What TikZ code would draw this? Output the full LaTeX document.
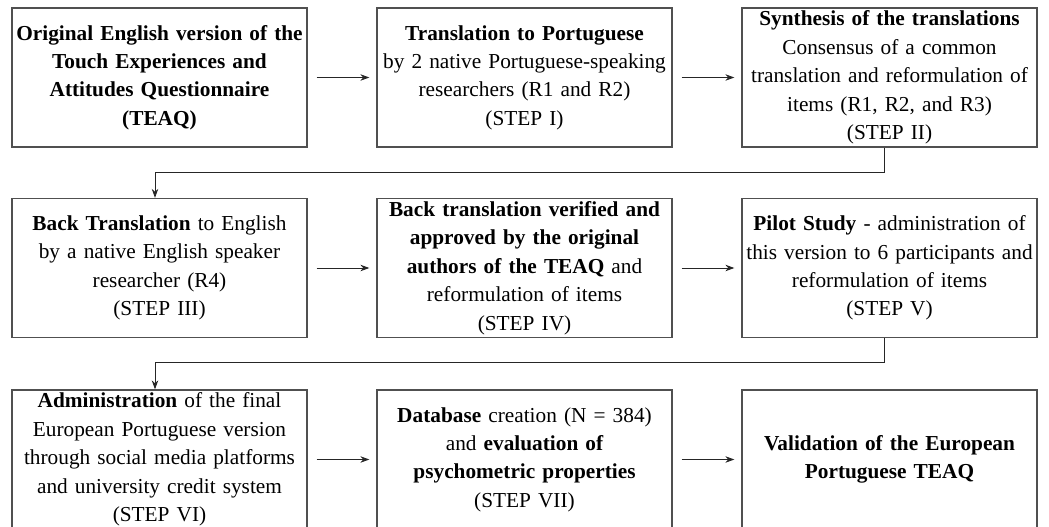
\documentclass[tikz,border=0pt]{standalone}
\usepackage{fontspec}
\setmainfont{Liberation Serif}
\usetikzlibrary{arrows.meta}
\definecolor{boxgray}{HTML}{505050}
\begin{document}
\begin{tikzpicture}[x=1pt,y=-1pt,
 stepbox/.style={draw=boxgray, line width=1.3pt, rectangle, minimum width=295pt, minimum height=139pt, inner sep=0pt, text width=295pt, align=center, font=\fontsize{21.3}{28.4}\selectfont},
 flow/.style={draw=black!85, line width=0.9pt, -{Stealth[length=9pt,width=6.5pt]}}]
\useasboundingbox (0,0) rectangle (1049,527);
\node[stepbox] (n1) at (159.5,77.5) {{\bfseries Original English version of the\\Touch Experiences and\\Attitudes Questionnaire\\(TEAQ)}};
\node[stepbox] (n2) at (524.5,77.5) {{\bfseries Translation to Portuguese}\\by 2 native Portuguese-speaking\\researchers (R1 and R2)\\(STEP I)};
\node[stepbox] (n3) at (889.5,77.5) {{\bfseries Synthesis of the translations}\\Consensus of a common\\translation and reformulation of\\items (R1, R2, and R3)\\(STEP II)};
\node[stepbox] (n4) at (159.5,268) {{\bfseries Back Translation} to English\\by a native English speaker\\researcher (R4)\\(STEP III)};
\node[stepbox] (n5) at (524.5,268) {{\bfseries Back translation verified and\\approved by the original\\authors of the TEAQ} and\\reformulation of items\\(STEP IV)};
\node[stepbox] (n6) at (889.5,268) {{\bfseries Pilot Study} - administration of\\this version to 6 participants and\\reformulation of items\\(STEP V)};
\node[stepbox] (n7) at (159.5,459.5) {{\bfseries Administration} of the final\\European Portuguese version\\through social media platforms\\and university credit system\\(STEP VI)};
\node[stepbox] (n8) at (524.5,459.5) {{\bfseries Database} creation (N = 384)\\and {\bfseries evaluation of\\psychometric properties}\\(STEP VII)};
\node[stepbox] (n9) at (889.5,459.5) {{\bfseries Validation of the European\\Portuguese TEAQ}};
\draw[flow] ([xshift=9pt]n1.east) -- ([xshift=-7pt]n2.west);
\draw[flow] ([xshift=9pt]n2.east) -- ([xshift=-7pt]n3.west);
\draw[flow] ([xshift=9pt]n4.east) -- ([xshift=-7pt]n5.west);
\draw[flow] ([xshift=9pt]n5.east) -- ([xshift=-7pt]n6.west);
\draw[flow] ([xshift=9pt]n7.east) -- ([xshift=-7pt]n8.west);
\draw[flow] ([xshift=9pt]n8.east) -- ([xshift=-7pt]n9.west);
\coordinate (k1) at (155,172);
\coordinate (k2) at (155,362);
\draw[flow] ([xshift=-5.5pt]n3.south) |- (k1) -- ([xshift=-4.5pt]n4.north);
\draw[flow] ([xshift=-5.5pt]n6.south) |- (k2) -- ([xshift=-4.5pt]n7.north);
\end{tikzpicture}
\end{document}
